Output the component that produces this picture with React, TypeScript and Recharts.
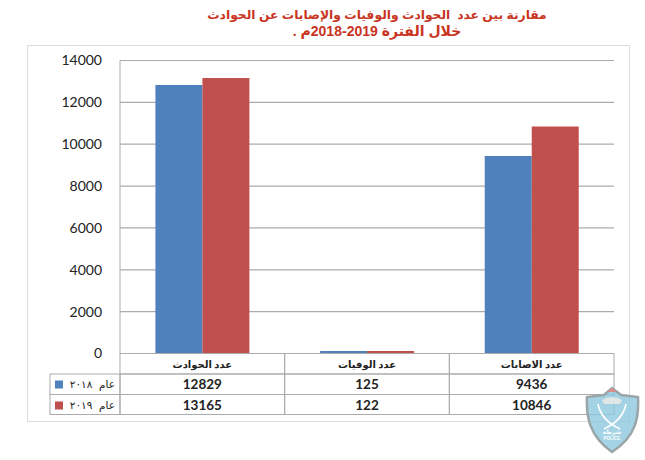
import { BarChart, Bar, XAxis, YAxis, CartesianGrid } from 'recharts'

const categories = ['عدد الحوادث', 'عدد الوفيات', 'عدد الاصابات']
const values2018 = [12829, 125, 9436]
const values2019 = [13165, 122, 10846]
const yTicks = [0, 2000, 4000, 6000, 8000, 10000, 12000, 14000]
const label2018 = 'عام ٢٠١٨'
const label2019 = 'عام ٢٠١٩'
const titleLines = ['مقارنة بين عدد  الحوادث والوفيات والإصابات عن الحوادث', 'خلال الفترة 2019-2018م .']

const data = categories.map((name, i) => ({ name, y2018: values2018[i], y2019: values2019[i] }))

const BLUE = '#4F81BD'
const RED = '#C0504D'
const LINE = '#ababab'
const CELL_W = 164.7
const ROWS = [0, 20.5, 41, 61]
const LEGEND_W = 70

function TableTick({ x, y, index, payload }: any) {
  const left = x - CELL_W / 2
  const arabic = "Lato, 'DejaVu Sans'"
  return (
    <g>
      <rect x={left} y={y + ROWS[0]} width={CELL_W} height={ROWS[1]} fill="none" stroke={LINE} />
      <rect x={left} y={y + ROWS[1]} width={CELL_W} height={ROWS[2] - ROWS[1]} fill="none" stroke={LINE} />
      <rect x={left} y={y + ROWS[2]} width={CELL_W} height={ROWS[3] - ROWS[2]} fill="none" stroke={LINE} />
      <text x={x} y={y + 14} textAnchor="middle" fontSize={10} fontWeight={700} fontFamily={arabic} fill="#222">
        {payload.value}
      </text>
      <text x={x} y={y + 35} textAnchor="middle" fontSize={13.5} fontWeight={700} fontFamily="Lato" fill="#222">
        {values2018[index]}
      </text>
      <text x={x} y={y + 56} textAnchor="middle" fontSize={13.5} fontWeight={700} fontFamily="Lato" fill="#222">
        {values2019[index]}
      </text>
      {index === 0 && (
        <g>
          <rect x={left - LEGEND_W} y={y + ROWS[1]} width={LEGEND_W} height={ROWS[2] - ROWS[1]} fill="none" stroke={LINE} />
          <rect x={left - LEGEND_W} y={y + ROWS[2]} width={LEGEND_W} height={ROWS[3] - ROWS[2]} fill="none" stroke={LINE} />
          <rect x={left - LEGEND_W + 5} y={y + 27} width={8} height={8} fill={BLUE} />
          <rect x={left - LEGEND_W + 5} y={y + 48} width={8} height={8} fill={RED} />
          <text x={left - 5} y={y + 34} textAnchor="start" fontSize={10.5} fontWeight={400} wordSpacing={4} fontFamily={arabic} fill="#222" direction="rtl">
            {label2018}
          </text>
          <text x={left - 5} y={y + 55} textAnchor="start" fontSize={10.5} fontWeight={400} wordSpacing={4} fontFamily={arabic} fill="#222" direction="rtl">
            {label2019}
          </text>
        </g>
      )}
    </g>
  )
}

function PoliceBadge() {
  return (
    <svg width={56} height={68} viewBox="0 0 56 68" style={{ position: 'absolute', left: 585, top: 386 }}>
      <path
        d="M27 2 L36 9 L53 11 C54 30 52 50 27 66 C4 50 1 30 2 11 L19 9 Z"
        fill="#8cc8de"
        fillOpacity={0.8}
        stroke="#9aa5a8"
        strokeWidth={2.5}
      />
      <path d="M27 2 L32 6 L22 6 Z" fill="#d98a8a" />
      <path d="M17 14 Q27 8 37 14 L35 18 L19 18 Z" fill="#dfe6e6" />
      <path d="M13 18 Q16 34 35 43 M41 18 Q38 34 19 43" fill="none" stroke="#ffffff" strokeWidth={1.6} />
      <text x={27} y={48} textAnchor="middle" fontSize={6} fontWeight={700} fill="#ffffff" fontFamily="'DejaVu Sans'">شرطة</text>
      <text x={27} y={54} textAnchor="middle" fontSize={4.5} fontWeight={700} fill="#ffffff" fontFamily="'Liberation Sans'">POLICE</text>
    </svg>
  )
}

export default function App() {
  return (
    <div style={{ position: 'absolute', left: 0, top: 0, width: 645, height: 460, background: '#fff', overflow: 'hidden' }}>
      <div
        style={{
          position: 'absolute',
          left: 149,
          top: 7,
          width: 456,
          textAlign: 'center',
          direction: 'rtl',
          color: '#C9341F',
          fontFamily: "'Liberation Sans', 'DejaVu Sans'",
          fontWeight: 700,
          fontSize: 12.3,
          lineHeight: '16px',
          whiteSpace: 'pre',
        }}
      >
        {titleLines.map((line, i) => (
          <div key={line} style={i === 1 ? { fontSize: 14 } : undefined}>{line}</div>
        ))}
      </div>
      <div
        style={{
          position: 'absolute',
          left: 27,
          top: 45,
          width: 601,
          height: 375,
          border: '1.5px solid #dcdcdc',
        }}
      />
      <div style={{ position: 'absolute', left: 0, top: 0 }}>
        <BarChart
          width={645}
          height={460}
          data={data}
          margin={{ top: 60.5, right: 31, bottom: 0, left: 40 }}
          barCategoryGap="21.5%"
          barGap={0}
        >
          <CartesianGrid vertical={false} stroke={LINE} strokeWidth={1.2} />
          <YAxis
            width={80}
            domain={[0, 14000]}
            ticks={yTicks}
            interval={0}
            axisLine={{ stroke: LINE }}
            tickLine={false}
            tickMargin={12}
            tick={{ fontSize: 14, fill: '#222', fontFamily: 'Lato' }}
          />
          <XAxis
            dataKey="name"
            height={106.5}
            interval={0}
            axisLine={{ stroke: LINE }}
            tickLine={false}
            tickSize={0}
            tickMargin={0}
            tick={<TableTick />}
          />
          <Bar dataKey="y2018" fill={BLUE} isAnimationActive={false} />
          <Bar dataKey="y2019" fill={RED} isAnimationActive={false} />
        </BarChart>
      </div>
      <PoliceBadge />
    </div>
  )
}
